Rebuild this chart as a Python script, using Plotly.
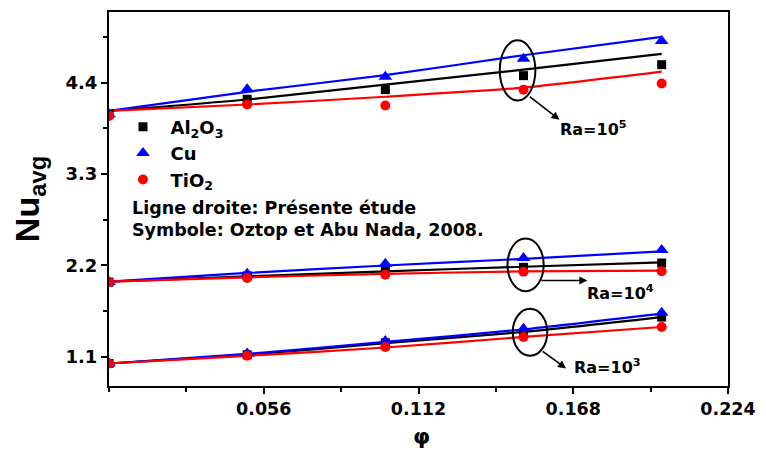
import plotly.graph_objects as go

phi = [0.0, 0.05, 0.10, 0.15, 0.20]

# Present study (lines)
line_al2o3_ra5 = [4.06, 4.197, 4.376, 4.556, 4.747]
line_cu_ra5 = [4.06, 4.29, 4.49, 4.73, 4.95]
line_tio2_ra5 = [4.06, 4.137, 4.23, 4.34, 4.532]

line_al2o3_ra4 = [2.007, 2.07, 2.13, 2.185, 2.238]
line_cu_ra4 = [2.007, 2.11, 2.20, 2.28, 2.37]
line_tio2_ra4 = [2.007, 2.058, 2.099, 2.13, 2.138]

line_al2o3_ra3 = [1.021, 1.125, 1.265, 1.40, 1.579]
line_cu_ra3 = [1.021, 1.137, 1.28, 1.43, 1.62]
line_tio2_ra3 = [1.021, 1.113, 1.213, 1.34, 1.46]

# Oztop & Abu Nada 2008 (symbols)
sym_al2o3_ra5 = [4.02, 4.20, 4.316, 4.484, 4.616]
sym_cu_ra5 = [4.02, 4.32, 4.47, 4.687, 4.90]
sym_tio2_ra5 = [4.00, 4.137, 4.125, 4.316, 4.39]

sym_al2o3_ra4 = [2.0, 2.075, 2.147, 2.178, 2.23]
sym_cu_ra4 = [2.0, 2.10, 2.22, 2.29, 2.386]
sym_tio2_ra4 = [2.0, 2.05, 2.09, 2.126, 2.13]

sym_al2o3_ra3 = [1.02, 1.125, 1.27, 1.388, 1.579]
sym_cu_ra3 = [1.02, 1.14, 1.29, 1.44, 1.632]
sym_tio2_ra3 = [1.02, 1.113, 1.22, 1.34, 1.46]

x_ticks = [0.056, 0.112, 0.168, 0.224]
y_ticks = [1.1, 2.2, 3.3, 4.4]

FONT = "DejaVu Sans"
BLACK, BLUE, RED = "#000000", "#0000ff", "#ff0000"

fig = go.Figure()

lines = [
    (line_al2o3_ra5, BLACK), (line_cu_ra5, BLUE), (line_tio2_ra5, RED),
    (line_al2o3_ra4, BLACK), (line_cu_ra4, BLUE), (line_tio2_ra4, RED),
    (line_al2o3_ra3, BLACK), (line_cu_ra3, BLUE), (line_tio2_ra3, RED),
]
for ys, c in lines:
    fig.add_trace(go.Scatter(x=phi, y=ys, mode="lines",
                             line=dict(color=c, width=2.2, shape="spline", smoothing=0.6),
                             showlegend=False, hoverinfo="skip"))

series = [
    ("Al<sub>2</sub>O<sub>3</sub>", "square", 9, BLACK, [sym_al2o3_ra5, sym_al2o3_ra4, sym_al2o3_ra3]),
    ("Cu", "triangle-up", 12, BLUE, [sym_cu_ra5, sym_cu_ra4, sym_cu_ra3]),
    ("TiO<sub>2</sub>", "circle", 10, RED, [sym_tio2_ra5, sym_tio2_ra4, sym_tio2_ra3]),
]
for name, sym, sz, c, groups in series:
    for i, ys in enumerate(groups):
        fig.add_trace(go.Scatter(x=phi, y=ys, mode="markers", name=name,
                                 marker=dict(symbol=sym, size=sz, color=c, line=dict(width=0)),
                                 showlegend=(i == 0), legendgroup=name))

# Ellipses around phi = 0.15 groups
ellipses = [
    (0.1414, 0.1543, 4.185, 4.911),
    (0.1442, 0.1573, 1.890, 2.525),
    (0.1461, 0.1586, 1.113, 1.680),
]
for x0, x1, y0, y1 in ellipses:
    fig.add_shape(type="circle", xref="x", yref="y", x0=x0, x1=x1, y0=y0, y1=y1,
                  line=dict(color="black", width=2))

# Arrows
arrows = [
    ((0.1517, 4.245), (0.1630, 3.954)),
    ((0.1559, 2.019), (0.1731, 2.019)),
    ((0.1564, 1.181), (0.1654, 0.962)),
]
for (tx, ty), (hx, hy) in arrows:
    fig.add_annotation(x=hx, y=hy, ax=tx, ay=ty, xref="x", yref="y", axref="x", ayref="y",
                       text="", showarrow=True, arrowhead=2, arrowsize=1, arrowwidth=1.6,
                       arrowcolor="black")

ra_labels = [
    ("Ra=10<sup>5</sup>", 0.1624, 3.853),
    ("Ra=10<sup>4</sup>", 0.1722, 1.879),
    ("Ra=10<sup>3</sup>", 0.1676, 0.981),
]
for t, x, y in ra_labels:
    fig.add_annotation(x=x, y=y, xref="x", yref="y", text=t, showarrow=False,
                       xanchor="left", yanchor="middle",
                       font=dict(family=FONT, size=16, color="black", weight="bold"))

fig.add_annotation(x=0.0334, y=0.477, xref="paper", yref="paper",
                   text="Ligne droite: Présente étude", showarrow=False,
                   xanchor="left", yanchor="middle",
                   font=dict(family=FONT, size=17.5, color="black", weight="bold"))
fig.add_annotation(x=0.0334, y=0.417, xref="paper", yref="paper",
                   text="Symbole: Oztop et Abu Nada, 2008.", showarrow=False,
                   xanchor="left", yanchor="middle",
                   font=dict(family=FONT, size=17.5, color="black", weight="bold"))

# Axis titles
fig.add_annotation(x=-0.129, y=0.5, xref="paper", yref="paper",
                   text="Nu<sub>avg</sub>", showarrow=False, textangle=-90,
                   xanchor="center", yanchor="middle",
                   font=dict(family="Liberation Sans", size=34, color="black", weight="bold"))
fig.add_annotation(x=0.5055, y=-0.136, xref="paper", yref="paper",
                   text="φ", showarrow=False, xanchor="center", yanchor="middle",
                   font=dict(family=FONT, size=22, color="black", weight="bold"))

fig.update_layout(
    width=766, height=463,
    margin=dict(l=109, r=28, t=10, b=77),
    paper_bgcolor="white", plot_bgcolor="white",
    font=dict(family=FONT, color="black"),
    showlegend=True,
    legend=dict(x=0.0105, y=0.742, xanchor="left", yanchor="top",
                bgcolor="rgba(0,0,0,0)", borderwidth=0, tracegroupgap=0,
                itemwidth=45,
                font=dict(family=FONT, size=18, color="black", weight="bold")),
    xaxis=dict(range=[0, 0.224], tickvals=x_ticks, ticktext=[f"{v:.3f}" for v in x_ticks],
               ticks="outside", ticklen=6, tickwidth=2, tickcolor="black",
               showline=True, linewidth=2, linecolor="black", mirror=True,
               showgrid=False, zeroline=False,
               minor=dict(dtick=0.028, tick0=0, ticks="outside", ticklen=4, tickwidth=2,
                          tickcolor="black", showgrid=False),
               tickfont=dict(family=FONT, size=17.5, color="black", weight="bold")),
    yaxis=dict(range=[0.75, 5.25], tickvals=y_ticks, ticktext=[f"{v:.1f}" for v in y_ticks],
               ticks="outside", ticklen=6, tickwidth=2, tickcolor="black",
               showline=True, linewidth=2, linecolor="black", mirror=True,
               showgrid=False, zeroline=False,
               minor=dict(dtick=0.55, tick0=0.55, ticks="outside", ticklen=4, tickwidth=2,
                          tickcolor="black", showgrid=False),
               tickfont=dict(family=FONT, size=18, color="black", weight="bold")),
)

fig.write_html("out.html")
